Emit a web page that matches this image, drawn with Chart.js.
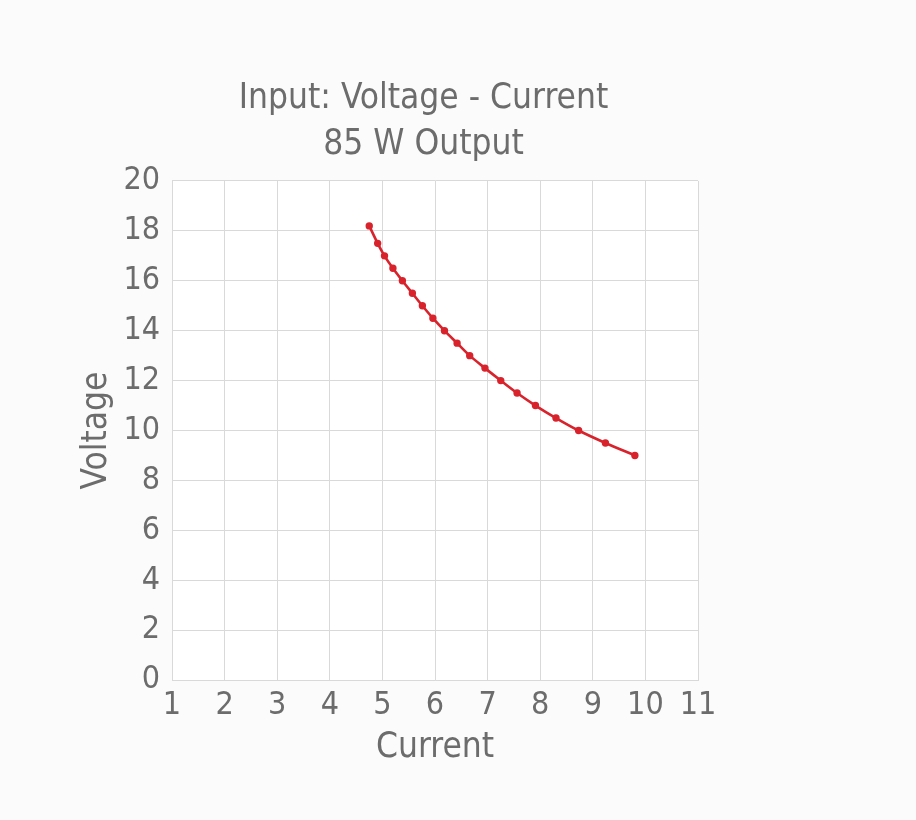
<!DOCTYPE html>
<html>
<head>
<meta charset="utf-8">
<script src="https://cdn.jsdelivr.net/npm/chart.js@4/dist/chart.umd.min.js"></script>
<style>
  html, body { margin: 0; padding: 0; background: #fbfbfb; }
  #wrap { position: relative; width: 916px; height: 820px; }
</style>
</head>
<body>
<div id="wrap"><canvas id="c" width="916" height="820"></canvas></div>
<script>
const chartTitle = ['Input: Voltage - Current', '85 W Output'];
const xAxisTitle = 'Current';
const yAxisTitle = 'Voltage';
const current = [4.75, 4.91, 5.04, 5.20, 5.38, 5.57, 5.76, 5.96, 6.18, 6.42, 6.66, 6.95, 7.25, 7.56, 7.91, 8.30, 8.73, 9.24, 9.80];
const voltage = [18.2, 17.5, 17.0, 16.5, 16.0, 15.5, 15.0, 14.5, 14.0, 13.5, 13.0, 12.5, 12.0, 11.5, 11.0, 10.5, 10.0, 9.5, 9.0];
const xTicks = [1, 2, 3, 4, 5, 6, 7, 8, 9, 10, 11];
const yTicks = [0, 2, 4, 6, 8, 10, 12, 14, 16, 18, 20];

const FONT = "'Liberation Sans Narrow', 'DejaVu Sans Condensed', 'Roboto', sans-serif";
const TEXT = '#6c6c6c';
const GRID = '#d9d9d9';

const points = current.map((c, i) => ({ x: c, y: voltage[i] }));

const plotBg = {
  id: 'plotBg',
  beforeDraw(chart) {
    const { ctx, chartArea: a } = chart;
    ctx.save();
    ctx.fillStyle = '#ffffff';
    ctx.fillRect(a.left, a.top, a.right - a.left, a.bottom - a.top);
    ctx.restore();
  }
};

new Chart(document.getElementById('c'), {
  type: 'scatter',
  data: {
    datasets: [{
      data: points,
      showLine: true,
      borderColor: '#d8232c',
      backgroundColor: '#d8232c',
      borderWidth: 2.6,
      pointRadius: 2.4,
      pointHoverRadius: 2.4,
      tension: 0.3
    }]
  },
  plugins: [plotBg],
  options: {
    responsive: false,
    animation: false,
    layout: { padding: { left: 0, right: 69, top: 0, bottom: 51 } },
    plugins: {
      legend: { display: false },
      tooltip: { enabled: false },
      title: {
        display: true,
        text: chartTitle,
        color: TEXT,
        font: { family: FONT, size: 35, weight: 'normal', lineHeight: 1.314 },
        padding: { top: 76, bottom: 13 }
      }
    },
    scales: {
      x: {
        type: 'linear',
        min: 1, max: 11,
        afterBuildTicks(s) { s.ticks = xTicks.map(v => ({ value: v })); },
        grid: { color: GRID, lineWidth: 1, drawTicks: false },
        border: { color: GRID },
        ticks: { color: TEXT, padding: 10, font: { family: FONT, size: 32, lineHeight: 1 } },
        title: {
          display: true, text: xAxisTitle, color: TEXT,
          font: { family: FONT, size: 35, lineHeight: 1.2 },
          padding: { top: -5, bottom: 0 }
        }
      },
      y: {
        type: 'linear',
        min: 0, max: 20,
        afterBuildTicks(s) { s.ticks = yTicks.map(v => ({ value: v })); },
        afterFit(s) { s.width = 172; },
        grid: { color: GRID, lineWidth: 1, drawTicks: false },
        border: { color: GRID },
        ticks: { color: TEXT, padding: 12, font: { family: FONT, size: 32 } },
        title: {
          display: true, text: yAxisTitle, color: TEXT,
          font: { family: FONT, size: 35, lineHeight: 1.2 },
          padding: { top: 76, bottom: 0 }
        }
      },
      spacer: {
        type: 'linear',
        position: 'right',
        display: true,
        min: 0, max: 1,
        afterFit(s) { s.width = 149; },
        grid: { display: false, drawTicks: false },
        border: { display: false },
        ticks: { display: false },
        title: { display: false }
      }
    }
  }
});
</script>
</body>
</html>
